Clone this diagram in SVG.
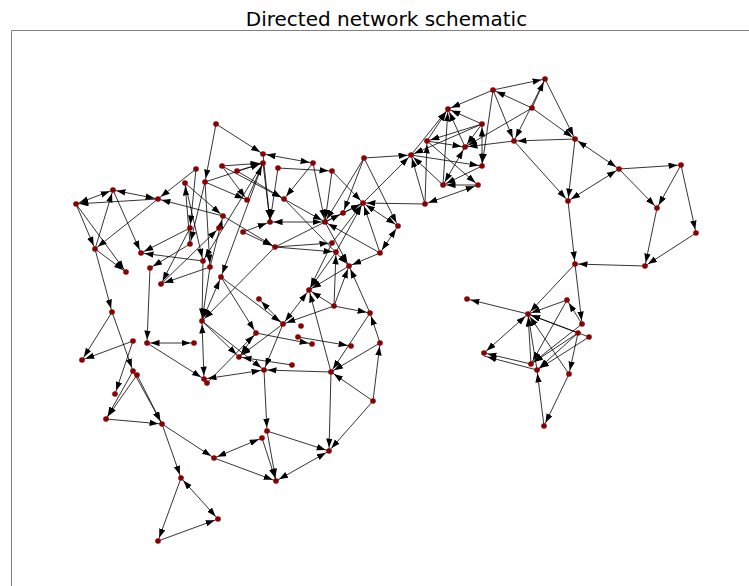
<svg xmlns="http://www.w3.org/2000/svg" width="749" height="586" viewBox="0 0 749 586">
<style>
.t{font-family:"DejaVu Sans",sans-serif;font-size:20px;fill:#000}
.fr{stroke:#808080;stroke-width:1;fill:none}
.e{stroke:#000;stroke-width:0.8;marker-end:url(#a)}
.b{marker-start:url(#s)}
.n{fill:#8b0000}
</style>
<defs>
<marker id="a" markerUnits="userSpaceOnUse" markerWidth="14" markerHeight="8" refX="12.5" refY="3.2" orient="auto"><path d="M0,0 L9,3.2 L0,6.4 z" fill="#000"/></marker>
<marker id="s" markerUnits="userSpaceOnUse" markerWidth="14" markerHeight="8" refX="12.5" refY="3.2" orient="auto-start-reverse"><path d="M0,0 L9,3.2 L0,6.4 z" fill="#000"/></marker>
</defs>
<rect width="749" height="586" fill="#fff"/>
<text class="t" x="386.5" y="26" text-anchor="middle">Directed network schematic</text>
<path class="fr" d="M11.5,586 V30.5 H749"/>
<g id="edges">
<line class="e b" x1="76" y1="204" x2="113" y2="190"/>
<line class="e b" x1="113" y1="190" x2="158" y2="199"/>
<line class="e" x1="158" y1="199" x2="76" y2="204"/>
<line class="e" x1="76" y1="204" x2="95" y2="249"/>
<line class="e" x1="95" y1="249" x2="113" y2="190"/>
<line class="e" x1="113" y1="190" x2="141" y2="253"/>
<line class="e" x1="158" y1="199" x2="95" y2="249"/>
<line class="e" x1="76" y1="204" x2="126" y2="272"/>
<line class="e" x1="95" y1="249" x2="126" y2="272"/>
<line class="e" x1="196" y1="169" x2="158" y2="199"/>
<line class="e" x1="223" y1="216" x2="158" y2="199"/>
<line class="e" x1="190" y1="228" x2="141" y2="253"/>
<line class="e" x1="203" y1="261" x2="141" y2="253"/>
<line class="e" x1="190" y1="244" x2="150" y2="268"/>
<line class="e" x1="210" y1="267" x2="161" y2="284"/>
<line class="e" x1="190" y1="228" x2="161" y2="284"/>
<line class="e" x1="161" y1="284" x2="219" y2="228"/>
<line class="e" x1="95" y1="249" x2="112" y2="312"/>
<line class="e" x1="112" y1="312" x2="82" y2="360"/>
<line class="e" x1="112" y1="312" x2="133" y2="371"/>
<line class="e" x1="133" y1="341" x2="82" y2="360"/>
<line class="e" x1="133" y1="341" x2="115" y2="394"/>
<line class="e" x1="133" y1="371" x2="106" y2="419"/>
<line class="e" x1="137" y1="375" x2="106" y2="419"/>
<line class="e" x1="133" y1="371" x2="162" y2="424"/>
<line class="e" x1="137" y1="375" x2="162" y2="424"/>
<line class="e" x1="106" y1="419" x2="162" y2="424"/>
<line class="e b" x1="147" y1="343" x2="194" y2="343"/>
<line class="e" x1="150" y1="268" x2="147" y2="343"/>
<line class="e" x1="147" y1="343" x2="204" y2="379"/>
<line class="e" x1="162" y1="424" x2="214" y2="458"/>
<line class="e" x1="162" y1="424" x2="181" y2="478"/>
<line class="e b" x1="181" y1="478" x2="218" y2="519"/>
<line class="e" x1="181" y1="478" x2="158" y2="541"/>
<line class="e" x1="158" y1="541" x2="218" y2="519"/>
<line class="e b" x1="214" y1="458" x2="262" y2="438"/>
<line class="e" x1="214" y1="458" x2="276" y2="481"/>
<line class="e" x1="267" y1="431" x2="276" y2="481"/>
<line class="e" x1="262" y1="438" x2="276" y2="481"/>
<line class="e" x1="267" y1="431" x2="329" y2="451"/>
<line class="e b" x1="329" y1="451" x2="276" y2="481"/>
<line class="e" x1="331" y1="372" x2="329" y2="451"/>
<line class="e" x1="373" y1="401" x2="329" y2="451"/>
<line class="e" x1="264" y1="370" x2="267" y2="431"/>
<line class="e" x1="373" y1="401" x2="331" y2="372"/>
<line class="e" x1="373" y1="401" x2="380" y2="343"/>
<line class="e" x1="331" y1="372" x2="264" y2="370"/>
<line class="e" x1="380" y1="343" x2="331" y2="372"/>
<line class="e" x1="331" y1="372" x2="309" y2="290"/>
<line class="e" x1="380" y1="343" x2="370" y2="313"/>
<line class="e" x1="370" y1="313" x2="331" y2="372"/>
<line class="e" x1="370" y1="313" x2="349" y2="266"/>
<line class="e" x1="334" y1="306" x2="370" y2="313"/>
<line class="e" x1="334" y1="306" x2="309" y2="290"/>
<line class="e" x1="334" y1="306" x2="283" y2="324"/>
<line class="e b" x1="309" y1="290" x2="283" y2="324"/>
<line class="e" x1="349" y1="266" x2="309" y2="290"/>
<line class="e" x1="334" y1="306" x2="349" y2="266"/>
<line class="e" x1="334" y1="306" x2="336" y2="252"/>
<line class="e" x1="221" y1="277" x2="256" y2="333"/>
<line class="e b" x1="221" y1="277" x2="202" y2="321"/>
<line class="e" x1="210" y1="267" x2="202" y2="321"/>
<line class="e" x1="203" y1="261" x2="202" y2="321"/>
<line class="e b" x1="202" y1="321" x2="204" y2="379"/>
<line class="e" x1="202" y1="321" x2="239" y2="357"/>
<line class="e" x1="202" y1="321" x2="264" y2="370"/>
<line class="e b" x1="204" y1="379" x2="264" y2="370"/>
<line class="e" x1="207" y1="383" x2="256" y2="333"/>
<line class="e" x1="283" y1="324" x2="239" y2="357"/>
<line class="e" x1="283" y1="324" x2="264" y2="370"/>
<line class="e" x1="292" y1="365" x2="239" y2="357"/>
<line class="e" x1="256" y1="333" x2="312" y2="344"/>
<line class="e" x1="298" y1="337" x2="351" y2="346"/>
<line class="e" x1="283" y1="324" x2="259" y2="299"/>
<line class="e" x1="221" y1="277" x2="283" y2="324"/>
<line class="e" x1="275" y1="247" x2="202" y2="321"/>
<line class="e" x1="256" y1="333" x2="239" y2="357"/>
<line class="e" x1="216" y1="124" x2="205" y2="182"/>
<line class="e" x1="216" y1="124" x2="263" y2="154"/>
<line class="e" x1="222" y1="166" x2="263" y2="163"/>
<line class="e" x1="237" y1="171" x2="263" y2="163"/>
<line class="e" x1="205" y1="182" x2="263" y2="163"/>
<line class="e b" x1="263" y1="154" x2="313" y2="163"/>
<line class="e" x1="263" y1="163" x2="270" y2="222"/>
<line class="e" x1="263" y1="154" x2="270" y2="222"/>
<line class="e" x1="278" y1="168" x2="270" y2="222"/>
<line class="e" x1="237" y1="171" x2="284" y2="199"/>
<line class="e" x1="222" y1="166" x2="284" y2="199"/>
<line class="e" x1="313" y1="163" x2="284" y2="199"/>
<line class="e" x1="278" y1="168" x2="332" y2="171"/>
<line class="e" x1="313" y1="163" x2="325" y2="222"/>
<line class="e" x1="332" y1="171" x2="325" y2="222"/>
<line class="e" x1="284" y1="199" x2="325" y2="222"/>
<line class="e b" x1="270" y1="222" x2="325" y2="222"/>
<line class="e" x1="284" y1="199" x2="349" y2="266"/>
<line class="e" x1="196" y1="169" x2="190" y2="228"/>
<line class="e" x1="205" y1="182" x2="190" y2="244"/>
<line class="e" x1="185" y1="183" x2="203" y2="261"/>
<line class="e" x1="190" y1="244" x2="185" y2="183"/>
<line class="e" x1="185" y1="183" x2="223" y2="216"/>
<line class="e" x1="205" y1="182" x2="247" y2="200"/>
<line class="e" x1="222" y1="166" x2="247" y2="200"/>
<line class="e" x1="247" y1="200" x2="263" y2="163"/>
<line class="e" x1="263" y1="163" x2="203" y2="261"/>
<line class="e" x1="263" y1="163" x2="221" y2="277"/>
<line class="e" x1="205" y1="182" x2="210" y2="267"/>
<line class="e" x1="223" y1="216" x2="275" y2="247"/>
<line class="e" x1="243" y1="232" x2="275" y2="247"/>
<line class="e" x1="243" y1="232" x2="270" y2="222"/>
<line class="e" x1="275" y1="247" x2="332" y2="243"/>
<line class="e" x1="275" y1="247" x2="336" y2="252"/>
<line class="e" x1="275" y1="247" x2="343" y2="213"/>
<line class="e" x1="332" y1="171" x2="363" y2="203"/>
<line class="e" x1="210" y1="267" x2="223" y2="216"/>
<line class="e" x1="364" y1="158" x2="325" y2="222"/>
<line class="e" x1="364" y1="158" x2="398" y2="226"/>
<line class="e" x1="364" y1="158" x2="343" y2="213"/>
<line class="e" x1="364" y1="158" x2="411" y2="155"/>
<line class="e" x1="425" y1="204" x2="363" y2="203"/>
<line class="e" x1="363" y1="203" x2="411" y2="155"/>
<line class="e" x1="343" y1="213" x2="363" y2="203"/>
<line class="e" x1="325" y1="222" x2="363" y2="203"/>
<line class="e" x1="332" y1="243" x2="363" y2="203"/>
<line class="e" x1="336" y1="252" x2="363" y2="203"/>
<line class="e b" x1="363" y1="203" x2="398" y2="226"/>
<line class="e b" x1="380" y1="253" x2="398" y2="226"/>
<line class="e" x1="380" y1="253" x2="349" y2="266"/>
<line class="e" x1="380" y1="253" x2="363" y2="203"/>
<line class="e" x1="380" y1="253" x2="325" y2="222"/>
<line class="e" x1="332" y1="243" x2="309" y2="290"/>
<line class="e" x1="336" y1="252" x2="309" y2="290"/>
<line class="e" x1="325" y1="222" x2="349" y2="266"/>
<line class="e" x1="493" y1="90" x2="448" y2="109"/>
<line class="e" x1="482" y1="124" x2="448" y2="109"/>
<line class="e" x1="427" y1="141" x2="448" y2="109"/>
<line class="e" x1="411" y1="155" x2="448" y2="109"/>
<line class="e" x1="465" y1="147" x2="448" y2="109"/>
<line class="e" x1="443" y1="185" x2="448" y2="109"/>
<line class="e" x1="482" y1="124" x2="427" y2="141"/>
<line class="e" x1="482" y1="124" x2="465" y2="147"/>
<line class="e b" x1="482" y1="124" x2="482" y2="166"/>
<line class="e" x1="514" y1="141" x2="465" y2="147"/>
<line class="e" x1="532" y1="108" x2="465" y2="147"/>
<line class="e" x1="493" y1="90" x2="482" y2="166"/>
<line class="e" x1="425" y1="204" x2="411" y2="155"/>
<line class="e" x1="425" y1="204" x2="427" y2="141"/>
<line class="e b" x1="425" y1="204" x2="478" y2="185"/>
<line class="e" x1="478" y1="185" x2="443" y2="185"/>
<line class="e" x1="482" y1="166" x2="443" y2="185"/>
<line class="e" x1="443" y1="185" x2="411" y2="155"/>
<line class="e b" x1="465" y1="147" x2="443" y2="185"/>
<line class="e" x1="427" y1="141" x2="465" y2="147"/>
<line class="e" x1="427" y1="141" x2="478" y2="185"/>
<line class="e" x1="411" y1="155" x2="482" y2="166"/>
<line class="e" x1="482" y1="124" x2="411" y2="155"/>
<line class="e" x1="493" y1="90" x2="545" y2="79"/>
<line class="e" x1="532" y1="108" x2="493" y2="90"/>
<line class="e" x1="532" y1="108" x2="545" y2="79"/>
<line class="e" x1="545" y1="79" x2="514" y2="141"/>
<line class="e" x1="493" y1="90" x2="514" y2="141"/>
<line class="e" x1="532" y1="108" x2="575" y2="139"/>
<line class="e" x1="545" y1="79" x2="575" y2="139"/>
<line class="e" x1="575" y1="139" x2="514" y2="141"/>
<line class="e" x1="514" y1="141" x2="568" y2="201"/>
<line class="e" x1="575" y1="139" x2="568" y2="201"/>
<line class="e b" x1="575" y1="139" x2="619" y2="169"/>
<line class="e b" x1="619" y1="169" x2="568" y2="201"/>
<line class="e" x1="619" y1="169" x2="681" y2="165"/>
<line class="e" x1="619" y1="169" x2="657" y2="208"/>
<line class="e" x1="681" y1="165" x2="657" y2="208"/>
<line class="e" x1="681" y1="165" x2="696" y2="233"/>
<line class="e" x1="657" y1="208" x2="645" y2="266"/>
<line class="e" x1="696" y1="233" x2="645" y2="266"/>
<line class="e" x1="645" y1="266" x2="575" y2="264"/>
<line class="e" x1="568" y1="201" x2="575" y2="264"/>
<line class="e" x1="575" y1="264" x2="528" y2="314"/>
<line class="e" x1="575" y1="264" x2="582" y2="324"/>
<line class="e" x1="528" y1="314" x2="467" y2="299"/>
<line class="e" x1="567" y1="300" x2="528" y2="314"/>
<line class="e" x1="567" y1="300" x2="531" y2="364"/>
<line class="e b" x1="528" y1="314" x2="484" y2="353"/>
<line class="e" x1="531" y1="364" x2="484" y2="353"/>
<line class="e" x1="537" y1="370" x2="484" y2="356"/>
<line class="e" x1="531" y1="364" x2="528" y2="314"/>
<line class="e" x1="537" y1="370" x2="528" y2="314"/>
<line class="e" x1="589" y1="337" x2="528" y2="314"/>
<line class="e" x1="578" y1="333" x2="528" y2="314"/>
<line class="e" x1="582" y1="324" x2="567" y2="300"/>
<line class="e" x1="582" y1="324" x2="531" y2="364"/>
<line class="e" x1="578" y1="333" x2="531" y2="364"/>
<line class="e" x1="578" y1="333" x2="537" y2="370"/>
<line class="e" x1="569" y1="374" x2="528" y2="314"/>
<line class="e" x1="578" y1="333" x2="569" y2="374"/>
<line class="e" x1="589" y1="337" x2="537" y2="370"/>
<line class="e" x1="544" y1="426" x2="537" y2="370"/>
<line class="e" x1="569" y1="374" x2="544" y2="426"/>
</g>
<g id="A1"><circle class="n" cx="76" cy="204" r="2.8"/></g>
<g id="A2"><circle class="n" cx="113" cy="190" r="2.8"/></g>
<g id="A3"><circle class="n" cx="158" cy="199" r="2.8"/></g>
<g id="A4"><circle class="n" cx="95" cy="249" r="2.8"/></g>
<g id="A5"><circle class="n" cx="141" cy="253" r="2.8"/></g>
<g id="A6"><circle class="n" cx="126" cy="272" r="2.8"/></g>
<g id="A7"><circle class="n" cx="150" cy="268" r="2.8"/></g>
<g id="A20"><circle class="n" cx="161" cy="284" r="2.8"/></g>
<g id="A8"><circle class="n" cx="112" cy="312" r="2.8"/></g>
<g id="A9"><circle class="n" cx="133" cy="341" r="2.8"/></g>
<g id="A10"><circle class="n" cx="147" cy="343" r="2.8"/></g>
<g id="A11"><circle class="n" cx="82" cy="360" r="2.8"/></g>
<g id="A12"><circle class="n" cx="133" cy="371" r="2.8"/></g>
<g id="A13"><circle class="n" cx="137" cy="375" r="2.8"/></g>
<g id="A14"><circle class="n" cx="115" cy="394" r="2.8"/></g>
<g id="A15"><circle class="n" cx="106" cy="419" r="2.8"/></g>
<g id="A16"><circle class="n" cx="162" cy="424" r="2.8"/></g>
<g id="A17"><circle class="n" cx="181" cy="478" r="2.8"/></g>
<g id="A18"><circle class="n" cx="218" cy="519" r="2.8"/></g>
<g id="A19"><circle class="n" cx="158" cy="541" r="2.8"/></g>
<g id="B1"><circle class="n" cx="216" cy="124" r="2.8"/></g>
<g id="B2"><circle class="n" cx="196" cy="169" r="2.8"/></g>
<g id="B3"><circle class="n" cx="185" cy="183" r="2.8"/></g>
<g id="B4"><circle class="n" cx="205" cy="182" r="2.8"/></g>
<g id="B5"><circle class="n" cx="222" cy="166" r="2.8"/></g>
<g id="B6"><circle class="n" cx="237" cy="171" r="2.8"/></g>
<g id="B7"><circle class="n" cx="263" cy="154" r="2.8"/></g>
<g id="B8"><circle class="n" cx="263" cy="163" r="2.8"/></g>
<g id="B9"><circle class="n" cx="278" cy="168" r="2.8"/></g>
<g id="B10"><circle class="n" cx="313" cy="163" r="2.8"/></g>
<g id="B11"><circle class="n" cx="332" cy="171" r="2.8"/></g>
<g id="B12"><circle class="n" cx="247" cy="200" r="2.8"/></g>
<g id="B13"><circle class="n" cx="284" cy="199" r="2.8"/></g>
<g id="B14"><circle class="n" cx="223" cy="216" r="2.8"/></g>
<g id="B15"><circle class="n" cx="219" cy="228" r="2.8"/></g>
<g id="B16"><circle class="n" cx="190" cy="228" r="2.8"/></g>
<g id="B17"><circle class="n" cx="243" cy="232" r="2.8"/></g>
<g id="B18"><circle class="n" cx="190" cy="244" r="2.8"/></g>
<g id="B19"><circle class="n" cx="270" cy="222" r="2.8"/></g>
<g id="B20"><circle class="n" cx="275" cy="247" r="2.8"/></g>
<g id="B21"><circle class="n" cx="203" cy="261" r="2.8"/></g>
<g id="B22"><circle class="n" cx="210" cy="267" r="2.8"/></g>
<g id="B23"><circle class="n" cx="221" cy="277" r="2.8"/></g>
<g id="C1"><circle class="n" cx="364" cy="158" r="2.8"/></g>
<g id="C2"><circle class="n" cx="363" cy="203" r="2.8"/></g>
<g id="C3"><circle class="n" cx="343" cy="213" r="2.8"/></g>
<g id="C4"><circle class="n" cx="325" cy="222" r="2.8"/></g>
<g id="C5"><circle class="n" cx="398" cy="226" r="2.8"/></g>
<g id="C6"><circle class="n" cx="332" cy="243" r="2.8"/></g>
<g id="C7"><circle class="n" cx="336" cy="252" r="2.8"/></g>
<g id="C8"><circle class="n" cx="380" cy="253" r="2.8"/></g>
<g id="C9"><circle class="n" cx="349" cy="266" r="2.8"/></g>
<g id="C10"><circle class="n" cx="309" cy="290" r="2.8"/></g>
<g id="C11"><circle class="n" cx="334" cy="306" r="2.8"/></g>
<g id="C12"><circle class="n" cx="370" cy="313" r="2.8"/></g>
<g id="C13"><circle class="n" cx="259" cy="299" r="2.8"/></g>
<g id="D1"><circle class="n" cx="202" cy="321" r="2.8"/></g>
<g id="D2"><circle class="n" cx="194" cy="343" r="2.8"/></g>
<g id="D3"><circle class="n" cx="239" cy="357" r="2.8"/></g>
<g id="D4"><circle class="n" cx="204" cy="379" r="2.8"/></g>
<g id="D5"><circle class="n" cx="207" cy="383" r="2.8"/></g>
<g id="D6"><circle class="n" cx="256" cy="333" r="2.8"/></g>
<g id="D7"><circle class="n" cx="283" cy="324" r="2.8"/></g>
<g id="D8"><circle class="n" cx="301" cy="326" r="2.8"/></g>
<g id="D9"><circle class="n" cx="298" cy="337" r="2.8"/></g>
<g id="D10"><circle class="n" cx="312" cy="344" r="2.8"/></g>
<g id="D11"><circle class="n" cx="351" cy="346" r="2.8"/></g>
<g id="D12"><circle class="n" cx="380" cy="343" r="2.8"/></g>
<g id="D13"><circle class="n" cx="292" cy="365" r="2.8"/></g>
<g id="D14"><circle class="n" cx="264" cy="370" r="2.8"/></g>
<g id="D15"><circle class="n" cx="331" cy="372" r="2.8"/></g>
<g id="D16"><circle class="n" cx="373" cy="401" r="2.8"/></g>
<g id="D17"><circle class="n" cx="267" cy="431" r="2.8"/></g>
<g id="D18"><circle class="n" cx="262" cy="438" r="2.8"/></g>
<g id="D19"><circle class="n" cx="329" cy="451" r="2.8"/></g>
<g id="D20"><circle class="n" cx="214" cy="458" r="2.8"/></g>
<g id="D21"><circle class="n" cx="276" cy="481" r="2.8"/></g>
<g id="E1"><circle class="n" cx="448" cy="109" r="2.8"/></g>
<g id="E2"><circle class="n" cx="482" cy="124" r="2.8"/></g>
<g id="E3"><circle class="n" cx="427" cy="141" r="2.8"/></g>
<g id="E4"><circle class="n" cx="465" cy="147" r="2.8"/></g>
<g id="E5"><circle class="n" cx="411" cy="155" r="2.8"/></g>
<g id="E6"><circle class="n" cx="482" cy="166" r="2.8"/></g>
<g id="E7"><circle class="n" cx="443" cy="185" r="2.8"/></g>
<g id="E8"><circle class="n" cx="478" cy="185" r="2.8"/></g>
<g id="E9"><circle class="n" cx="425" cy="204" r="2.8"/></g>
<g id="F1"><circle class="n" cx="493" cy="90" r="2.8"/></g>
<g id="F2"><circle class="n" cx="545" cy="79" r="2.8"/></g>
<g id="F3"><circle class="n" cx="532" cy="108" r="2.8"/></g>
<g id="F4"><circle class="n" cx="514" cy="141" r="2.8"/></g>
<g id="F5"><circle class="n" cx="575" cy="139" r="2.8"/></g>
<g id="F6"><circle class="n" cx="619" cy="169" r="2.8"/></g>
<g id="F7"><circle class="n" cx="681" cy="165" r="2.8"/></g>
<g id="F8"><circle class="n" cx="568" cy="201" r="2.8"/></g>
<g id="F9"><circle class="n" cx="657" cy="208" r="2.8"/></g>
<g id="F10"><circle class="n" cx="696" cy="233" r="2.8"/></g>
<g id="F11"><circle class="n" cx="575" cy="264" r="2.8"/></g>
<g id="F12"><circle class="n" cx="645" cy="266" r="2.8"/></g>
<g id="G1"><circle class="n" cx="467" cy="299" r="2.8"/></g>
<g id="G2"><circle class="n" cx="567" cy="300" r="2.8"/></g>
<g id="G3"><circle class="n" cx="528" cy="314" r="2.8"/></g>
<g id="G4"><circle class="n" cx="582" cy="324" r="2.8"/></g>
<g id="G5"><circle class="n" cx="578" cy="333" r="2.8"/></g>
<g id="G6"><circle class="n" cx="589" cy="337" r="2.8"/></g>
<g id="G7"><circle class="n" cx="484" cy="353" r="2.8"/></g>
<g id="G8"><circle class="n" cx="531" cy="364" r="2.8"/></g>
<g id="G9"><circle class="n" cx="537" cy="370" r="2.8"/></g>
<g id="G10"><circle class="n" cx="569" cy="374" r="2.8"/></g>
<g id="G11"><circle class="n" cx="544" cy="426" r="2.8"/></g>
</svg>
